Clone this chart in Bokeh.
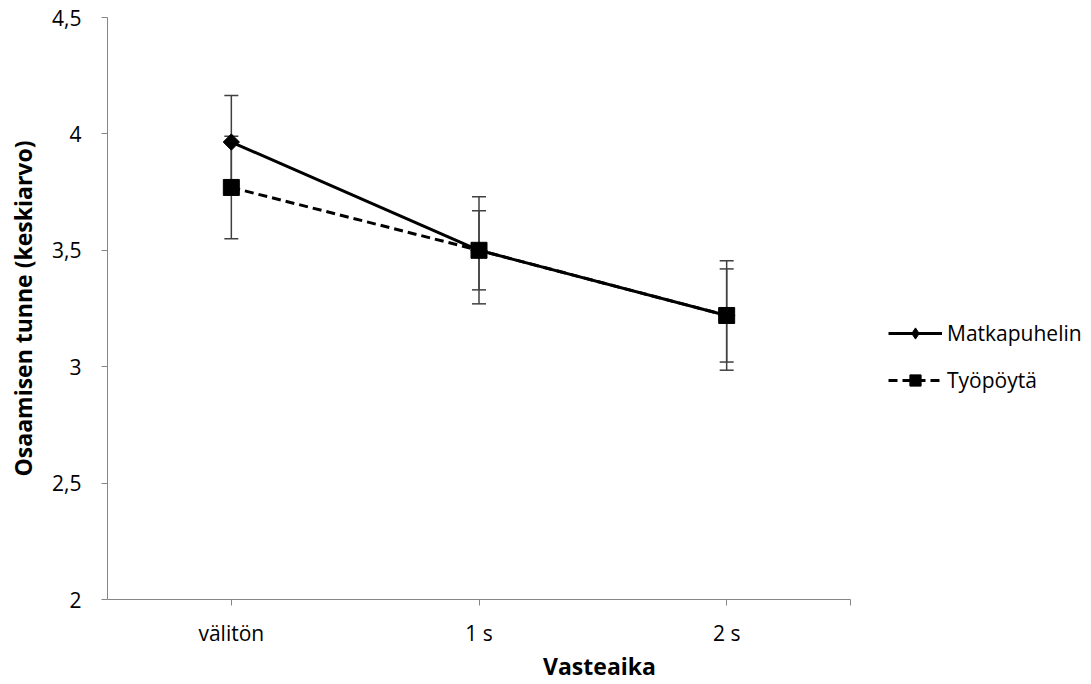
from bokeh.plotting import figure
from bokeh.models import (ColumnDataSource, Whisker, TeeHead, FixedTicker, Range1d,
                          Legend, LegendItem, CustomJSTickFormatter)
from bokeh.embed import file_html
from bokeh.resources import INLINE
import numpy as np

categories = ["välitön", "1 s", "2 s"]
matka_mean = [3.965, 3.50, 3.22]
matka_err = [0.20, 0.23, 0.235]
tyo_mean = [3.77, 3.50, 3.22]
tyo_err = [0.22, 0.17, 0.20]
y_ticks = [2.0, 2.5, 3.0, 3.5, 4.0, 4.5]

FONT = "Open Sans"
AXIS_COL = "#868686"

n = len(categories)
x_pos = [i + 0.5 for i in range(n)]
# frame extends to the right edge to hold the legend; axis line bounded to [0, n]
x_end = n * 984 / 743

p = figure(width=1091, height=684, output_backend="svg", toolbar_location=None,
           x_range=Range1d(0, x_end), y_range=Range1d(2, 4.5))
p.min_border_left = 107
p.min_border_top = 17
p.min_border_right = 0
p.min_border_bottom = 85
p.outline_line_color = None
p.grid.visible = False
p.background_fill_color = "white"
p.border_fill_color = "white"

def src(mean, err):
    return ColumnDataSource(dict(
        x=x_pos, y=mean,
        upper=[m + e for m, e in zip(mean, err)],
        lower=[m - e for m, e in zip(mean, err)]))

s_m = src(matka_mean, matka_err)
s_t = src(tyo_mean, tyo_err)

for s in (s_m, s_t):
    w = Whisker(base="x", upper="upper", lower="lower", source=s,
                line_color="#404040", line_width=1.5, level="underlay",
                upper_head=TeeHead(size=14, line_color="#404040", line_width=1.5),
                lower_head=TeeHead(size=14, line_color="#404040", line_width=1.5))
    p.add_layout(w)

# diamond used for the legend (hidden beneath the rotated square in the plot)
m_leg = p.scatter("x", "y", source=s_m, marker="diamond", size=13,
                  fill_color="black", line_color="black")
l_m = p.line("x", "y", source=s_m, line_color="black", line_width=3)
m_m = p.scatter("x", "y", source=s_m, marker="square", angle=np.pi / 4, size=11.5,
                fill_color="black", line_color="black")
l_t = p.line("x", "y", source=s_t, line_color="black", line_width=3, line_dash="9 5")
m_t = p.scatter("x", "y", source=s_t, marker="square", size=16,
                fill_color="black", line_color="black")

# axes
p.xaxis.ticker = FixedTicker(ticks=x_pos + [n])
p.xaxis.bounds = (0, n)
p.xaxis.formatter = CustomJSTickFormatter(
    args=dict(labels=categories),
    code="const i = Math.floor(tick); return (tick % 1 > 0.25 && i < labels.length) ? labels[i] : '';")
p.yaxis.ticker = FixedTicker(ticks=y_ticks)
p.yaxis.formatter = CustomJSTickFormatter(code="return tick.toString().replace('.', ',');")

for ax in (p.xaxis[0], p.yaxis[0]):
    ax.axis_line_color = AXIS_COL
    ax.axis_line_width = 1
    ax.major_tick_line_color = AXIS_COL
    ax.major_tick_out = 6
    ax.major_tick_in = 0
    ax.minor_tick_line_color = None
    ax.major_label_text_font = FONT
    ax.major_label_text_font_size = "21px"
    ax.major_label_text_color = "black"
    ax.axis_label_text_font = FONT
    ax.axis_label_text_font_size = "23px"
    ax.axis_label_text_font_style = "bold"
    ax.axis_label_text_color = "black"

p.xaxis.axis_label = "Vasteaika"
p.yaxis.axis_label = "Osaamisen tunne (keskiarvo)"
p.xaxis.major_label_standoff = 13
p.xaxis.axis_label_standoff = 0
p.yaxis.major_label_standoff = 20
p.yaxis.axis_label_standoff = 10

legend = Legend(items=[LegendItem(label="Matkapuhelin", renderers=[l_m, m_leg]),
                       LegendItem(label="Työpöytä", renderers=[l_t, m_t])],
                location=(781, 205), orientation="vertical",
                glyph_width=54, glyph_height=28, label_height=28, spacing=19,
                label_standoff=5, padding=0, margin=0,
                border_line_color=None, background_fill_alpha=0,
                label_text_font=FONT, label_text_font_size="21px",
                label_text_color="black")
p.add_layout(legend, "center")

open("out.html", "w").write(file_html(p, INLINE))
